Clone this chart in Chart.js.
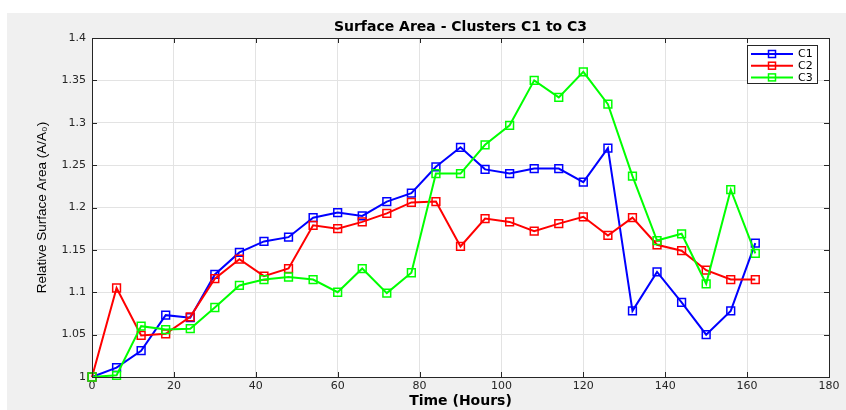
<!DOCTYPE html>
<html>
<head>
<meta charset="utf-8">
<title>Surface Area - Clusters C1 to C3</title>
<script src="https://cdn.jsdelivr.net/npm/chart.js@4/dist/chart.umd.min.js"></script>
<style>
    html, body { margin: 0; padding: 0; background: #ffffff; }
    #box { width: 846px; height: 410px; }
</style>
</head>
<body>
<div id="box"><canvas id="surfaceChart" width="846" height="410"></canvas></div>
<script>
var hours = [0, 6, 12, 18, 24, 30, 36, 42, 48, 54, 60, 66, 72, 78, 84, 90, 96, 102, 108, 114, 120, 126, 132, 138, 144, 150, 156, 162];
var c1 = [1.000, 1.011, 1.031, 1.073, 1.070, 1.121, 1.147, 1.160, 1.165, 1.188, 1.194, 1.190, 1.207, 1.217, 1.248, 1.271, 1.245, 1.240, 1.246, 1.246, 1.230, 1.270, 1.078, 1.124, 1.088, 1.050, 1.078, 1.158];
var c2 = [1.000, 1.105, 1.049, 1.051, 1.071, 1.116, 1.139, 1.119, 1.128, 1.179, 1.175, 1.183, 1.193, 1.206, 1.207, 1.154, 1.187, 1.183, 1.172, 1.181, 1.189, 1.167, 1.188, 1.156, 1.149, 1.126, 1.115, 1.115];
var c3 = [1.000, 1.002, 1.060, 1.056, 1.057, 1.082, 1.108, 1.115, 1.118, 1.115, 1.100, 1.128, 1.099, 1.123, 1.240, 1.240, 1.274, 1.297, 1.350, 1.330, 1.360, 1.322, 1.237, 1.161, 1.169, 1.110, 1.221, 1.146];
var seriesNames = ["C1", "C2", "C3"];
var seriesColors = ["#0000ff", "#ff0000", "#00ff00"];
var chartTitle = "Surface Area - Clusters C1 to C3";

var FONT = "'DejaVu Sans', 'Liberation Sans', Arial, sans-serif";
var YFONT = "'Liberation Sans', Arial, Helvetica, sans-serif";
var AXIS_COLOR = "#262626";

document.addEventListener('DOMContentLoaded', function () {
    makeSurfaceChart();
});

function toPoints(ys) {
    return hours.map(function (h, i) {
        return {x: h, y: ys[i]};
    });
}

// gray figure background, white axes, box + inner ticks, title and legend
var figurePlugin = {
    id: 'figure',
    beforeDraw: function (chart) {
        var ctx = chart.ctx, a = chart.chartArea;
        ctx.save();
        ctx.fillStyle = '#ffffff';
        ctx.fillRect(0, 0, chart.width, chart.height);
        ctx.fillStyle = '#f0f0f0';
        ctx.fillRect(7, 13, chart.width - 7, chart.height - 13);
        ctx.fillStyle = '#ffffff';
        ctx.fillRect(a.left, a.top, a.right - a.left, a.bottom - a.top);

        // title centred over the axes
        ctx.fillStyle = '#000000';
        ctx.font = 'bold 14px ' + FONT;
        ctx.textAlign = 'center';
        ctx.textBaseline = 'middle';
        ctx.fillText(chartTitle, (a.left + a.right) / 2, 27);
        ctx.restore();
    },
    afterDatasetsDraw: function (chart) {
        var ctx = chart.ctx, a = chart.chartArea;
        var xs = chart.scales.x, ys = chart.scales.y;
        ctx.save();
        ctx.strokeStyle = AXIS_COLOR;
        ctx.lineWidth = 1;
        ctx.beginPath();
        xs.ticks.forEach(function (t) {
            var px = Math.round(xs.getPixelForValue(t.value)) + 0.5;
            ctx.moveTo(px, a.bottom); ctx.lineTo(px, a.bottom - 5);
            ctx.moveTo(px, a.top); ctx.lineTo(px, a.top + 5);
        });
        ys.ticks.forEach(function (t) {
            var py = Math.round(ys.getPixelForValue(t.value)) + 0.5;
            ctx.moveTo(a.left, py); ctx.lineTo(a.left + 5, py);
            ctx.moveTo(a.right, py); ctx.lineTo(a.right - 5, py);
        });
        ctx.stroke();
        ctx.strokeRect(Math.round(a.left) + 0.5, Math.round(a.top) + 0.5,
            Math.round(a.right - a.left), Math.round(a.bottom - a.top));

        // legend box, top right inside the axes
        var lx = 747.5, ly = 45.5, lw = 70, lh = 38;
        ctx.fillStyle = '#ffffff';
        ctx.fillRect(lx, ly, lw, lh);
        ctx.strokeStyle = AXIS_COLOR;
        ctx.strokeRect(lx, ly, lw, lh);
        ctx.font = '11px ' + FONT;
        ctx.textBaseline = 'middle';
        ctx.textAlign = 'left';
        seriesNames.forEach(function (name, i) {
            var y = 54 + i * 11.7;
            ctx.strokeStyle = seriesColors[i];
            ctx.lineWidth = 2;
            ctx.beginPath();
            ctx.moveTo(751, y); ctx.lineTo(793, y);
            ctx.stroke();
            ctx.lineWidth = 1.5;
            ctx.strokeRect(768.5, y - 3.5, 7, 7);
            ctx.fillStyle = '#000000';
            ctx.fillText(name, 798, y + 0.5);
        });
        ctx.restore();
    }
};

function makeSurfaceChart() {
    var canvas = document.getElementById("surfaceChart");
    var datasets = [c1, c2, c3].map(function (ys, i) {
        return {
            label: seriesNames[i],
            data: toPoints(ys),
            borderColor: seriesColors[i],
            backgroundColor: 'rgba(255,255,255,0)',
            borderWidth: 2,
            pointStyle: 'rect',
            pointRadius: 5.5,
            pointBorderWidth: 1.5,
            pointBackgroundColor: 'rgba(255,255,255,0)',
            pointBorderColor: seriesColors[i],
            tension: 0,
            clip: false,
            order: 3 - i
        };
    });

    new Chart(canvas, {
        type: 'line',
        data: {datasets: datasets},
        plugins: [figurePlugin],
        options: {
            responsive: false,
            maintainAspectRatio: false,
            animation: false,
            layout: {padding: {left: 7, right: 17, top: 38, bottom: 0}},
            plugins: {
                legend: {display: false},
                tooltip: {enabled: false},
                title: {display: false}
            },
            scales: {
                x: {
                    type: 'linear',
                    min: 0,
                    max: 180,
                    ticks: {
                        stepSize: 20,
                        color: AXIS_COLOR,
                        font: {family: FONT, size: 11},
                        padding: 3,
                        maxRotation: 0
                    },
                    grid: {color: '#e3e3e3', drawTicks: false},
                    border: {color: AXIS_COLOR},
                    title: {
                        display: true,
                        text: 'Time (Hours)',
                        color: '#000000',
                        font: {family: FONT, size: 14, weight: 'bold'},
                        padding: 0
                    },
                    afterFit: function (scale) {
                        scale.height = 33;
                    }
                },
                y: {
                    min: 1,
                    max: 1.4,
                    ticks: {
                        stepSize: 0.05,
                        color: AXIS_COLOR,
                        font: {family: FONT, size: 11},
                        padding: 6,
                        callback: function (v) {
                            return parseFloat(v.toFixed(2)).toString();
                        }
                    },
                    grid: {color: '#e3e3e3', drawTicks: false},
                    border: {color: AXIS_COLOR},
                    title: {
                        display: true,
                        text: 'Relative Surface Area (A/A\u2080)',
                        color: '#000000',
                        font: {family: YFONT, size: 13.5},
                        padding: {top: 27, bottom: 0}
                    },
                    afterFit: function (scale) {
                        scale.width = 85;
                    }
                }
            }
        }
    });
}
</script>
</body>
</html>
